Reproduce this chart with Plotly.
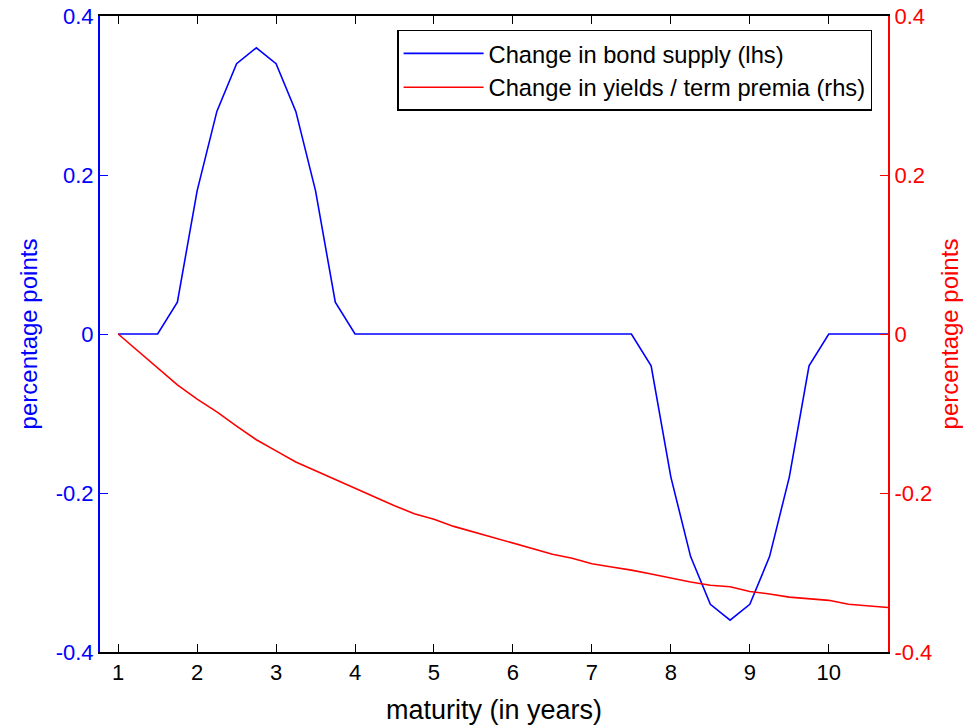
import plotly.graph_objects as go

maturity = [1.0, 1.25, 1.5, 1.75, 2.0, 2.25, 2.5, 2.75, 3.0, 3.25, 3.5, 3.75, 4.0,
            4.25, 4.5, 4.75, 5.0, 5.25, 5.5, 5.75, 6.0, 6.25, 6.5, 6.75, 7.0,
            7.25, 7.5, 7.75, 8.0, 8.25, 8.5, 8.75, 9.0, 9.25, 9.5, 9.75, 10.0,
            10.25, 10.5, 10.75]

bond_supply = [0, 0, 0, 0.04, 0.18, 0.28, 0.34, 0.36, 0.34, 0.28, 0.18, 0.04, 0,
               0, 0, 0, 0, 0, 0, 0, 0, 0, 0, 0, 0,
               0, 0, -0.04, -0.18, -0.28, -0.34, -0.36, -0.34, -0.28, -0.18, -0.04, 0,
               0, 0, 0]

yields = [0, -0.021, -0.043, -0.064, -0.082, -0.098, -0.116, -0.133, -0.147, -0.161,
          -0.172, -0.183, -0.194, -0.204, -0.216, -0.226, -0.233, -0.242, -0.249,
          -0.256, -0.263, -0.270, -0.277, -0.282, -0.289, -0.293, -0.297, -0.302,
          -0.307, -0.312, -0.316, -0.318, -0.324, -0.327, -0.331, -0.333, -0.335,
          -0.340, -0.342, -0.344]

x_ticks = [1, 2, 3, 4, 5, 6, 7, 8, 9, 10]
y_ticks = [-0.4, -0.2, 0, 0.2, 0.4]
y_tick_text = ["-0.4", "-0.2", "0", "0.2", "0.4"]

names = ["Change in bond supply (lhs)", "Change in yields / term premia (rhs)"]

FONT = "Liberation Sans, Arial, sans-serif"

fig = go.Figure()
fig.add_trace(go.Scatter(x=maturity, y=bond_supply, mode="lines", name=names[0],
                         line=dict(color="#0000ff", width=1.6), yaxis="y"))
fig.add_trace(go.Scatter(x=maturity, y=yields, mode="lines", name=names[1],
                         line=dict(color="#ff0000", width=1.6), yaxis="y2"))

fig.update_layout(
    width=963, height=725,
    margin=dict(l=100, r=75, t=16, b=73, autoexpand=False),
    paper_bgcolor="white", plot_bgcolor="white",
    font=dict(family=FONT, size=22, color="black"),
    showlegend=True,
    legend=dict(x=0.377, y=0.978, xanchor="left", yanchor="top",
                bgcolor="white", bordercolor="black", borderwidth=1.5,
                font=dict(size=23.7, family=FONT), itemwidth=80,
                tracegroupgap=0),
    xaxis=dict(range=[0.77, 10.75], tickvals=x_ticks, ticks="inside", ticklen=8,
               tickwidth=1.3, tickcolor="black", showline=True, linecolor="black",
               linewidth=2, mirror="ticks", showgrid=False, zeroline=False,
               automargin=False,
               tickfont=dict(size=22, color="black"),
               title=dict(text="maturity (in years)", font=dict(size=27), standoff=16)),
    yaxis=dict(range=[-0.4, 0.4], tickvals=y_ticks, ticktext=y_tick_text,
               ticks="inside", ticklen=8, tickwidth=1.3, tickcolor="#0000ff",
               showline=True, linecolor="#0000ff", linewidth=2, showgrid=False,
               zeroline=False, automargin=False,
               tickfont=dict(size=22, color="#0000ff"),
               title=dict(text="percentage points", font=dict(size=24, color="#0000ff"),
                          standoff=11)),
    yaxis2=dict(range=[-0.4, 0.4], tickvals=y_ticks, ticktext=y_tick_text,
                overlaying="y", side="right", anchor="x",
                ticks="inside", ticklen=8, tickwidth=1.3, tickcolor="#ff0000",
                showline=True, linecolor="#ff0000", linewidth=2, showgrid=False,
                zeroline=False, automargin=False,
                tickfont=dict(size=22, color="#ff0000"),
                title=dict(text="percentage points", font=dict(size=24, color="#ff0000"),
                           standoff=11)),
)

fig.write_html("out.html", config={"displayModeBar": False},
               post_script="document.body.style.margin='0';")
